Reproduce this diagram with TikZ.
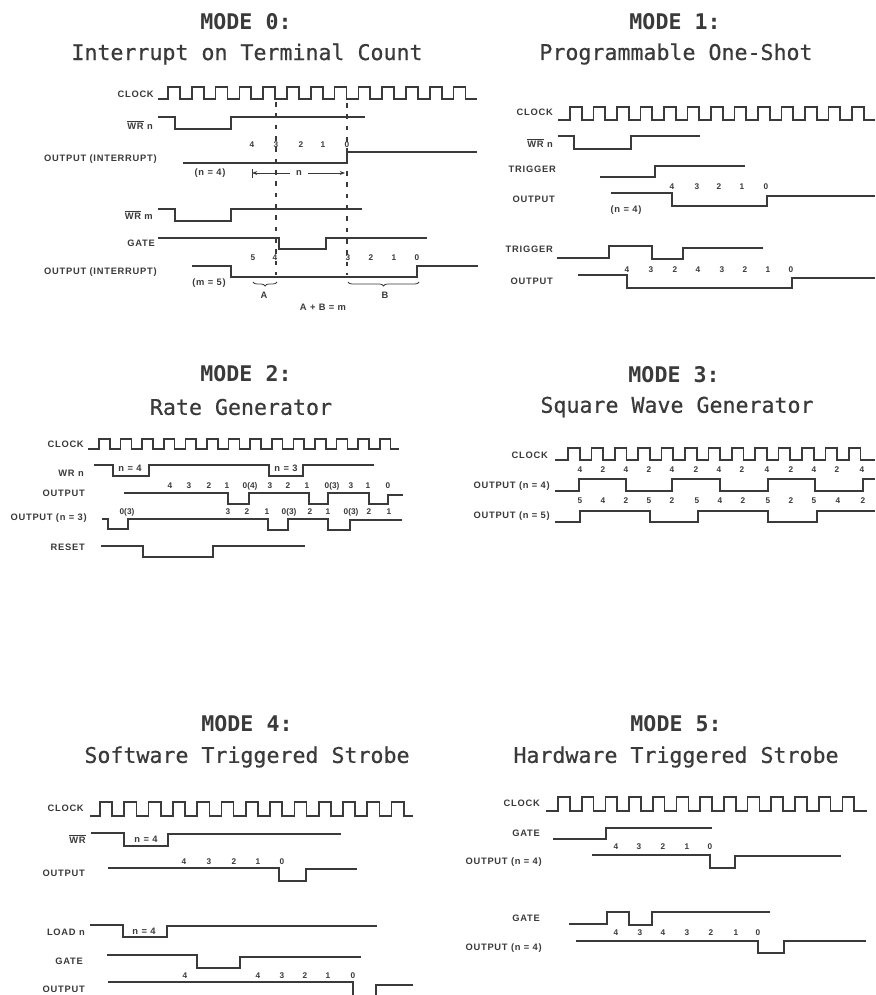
\documentclass[tikz,border=0pt]{standalone}
\usepackage{fontspec}
\setmainfont{Liberation Sans}
\newfontfamily\titlefont{DejaVu Sans Mono}
\newfontfamily\titlefontmid[FakeBold=0.6]{DejaVu Sans Mono}
\newfontfamily\labfont[LetterSpace=8]{Liberation Sans}
\usetikzlibrary{arrows.meta,decorations.pathreplacing}
\definecolor{ink}{HTML}{3A3A3A}
\newcounter{nn}
\tikzset{
  sig/.style={draw=ink,line width=1.25pt,line join=miter},
  guide/.style={draw=ink,line width=1pt,dash pattern=on 3.5pt off 5pt},
  thinln/.style={draw=ink,line width=0.6pt},
  titleA/.style={text=ink,inner sep=0,font=\titlefont\bfseries\fontsize{16.2}{18}\selectfont},
  titleB/.style={text=ink,inner sep=0,font=\titlefontmid\fontsize{16.2}{18}\selectfont},
  siglabel/.style={text=ink,inner sep=0,anchor=east,font=\labfont\bfseries\fontsize{7}{8}\selectfont},
  digit/.style={text=ink,inner sep=0,font=\bfseries\fontsize{6.2}{7}\selectfont},
  smalltxt/.style={text=ink,inner sep=0,font=\labfont\bfseries\fontsize{7}{8}\selectfont},
  brc/.style={draw=ink,line width=0.6pt,decorate,decoration={brace,mirror,amplitude=3pt}},
}
\newcommand\ttl[5]{% xa ya xb yb / text
  \stepcounter{nn}\node[titleA] (n\arabic{nn}) at (#1,#2) {MODE #5:};
  \stepcounter{nn}\node[titleB] (n\arabic{nn}) at (#3,#4) {\csname subt#5\endcsname};}
\expandafter\def\csname subt0\endcsname{Interrupt on Terminal Count}
\expandafter\def\csname subt1\endcsname{Programmable One-Shot}
\expandafter\def\csname subt2\endcsname{Rate Generator}
\expandafter\def\csname subt3\endcsname{Square Wave Generator}
\expandafter\def\csname subt4\endcsname{Software Triggered Strobe}
\expandafter\def\csname subt5\endcsname{Hardware Triggered Strobe}
\newcommand\lab[3]{\stepcounter{nn}\node[siglabel] (n\arabic{nn}) at (#1,#2) {#3};}
\newcommand\txt[3]{\stepcounter{nn}\node[smalltxt] (n\arabic{nn}) at (#1,#2) {#3};}
\newcommand\digs[2]{\foreach \dx/\dv in {#2} {\stepcounter{nn}\node[digit] (n\arabic{nn}) at (\dx,#1) {\dv};}}
\newcommand\wrbar[1]{$\overline{\mbox{WR}}$#1}
% start x, end x, y low, y high, first rise, period, count minus 1
\newcommand\clk[7]{\draw[sig] (#1,#3)
  foreach \i in {0,...,#7} { -- ({#5+\i*#6},#3) -- ({#5+\i*#6},#4) -- ({#5+\i*#6+#6/2},#4) -- ({#5+\i*#6+#6/2},#3) } -- (#2,#3);}
\begin{document}
\begin{tikzpicture}[x=0.75pt,y=-0.75pt]
\useasboundingbox (0,0) rectangle (875,995);
% ---------- MODE 0
\ttl{246}{22}{247}{54}{0}
\lab{154}{94}{CLOCK}
\clk{158}{477}{98.7}{86.7}{168}{23.8}{12}
\lab{153}{125}{\wrbar{ n}}
\draw[sig] (158,117) -- (175,117) -- (175,129) -- (231,129) -- (231,117) -- (365,117);
\digs{145}{252/4,276/3,301/2,323/1,347/0}
\lab{157}{159}{OUTPUT (INTERRUPT)}
\draw[sig] (183,163) -- (347,163) -- (347,152) -- (477,152);
\txt{210}{173}{(n = 4)}
\txt{299}{173}{n}
\draw[thinln] (252,169) -- (252,178);
\draw[thinln,-{Stealth[length=4pt]}] (290,173) -- (252,173);
\draw[thinln,-{Stealth[length=4pt]}] (308,173) -- (345,173);
\draw[guide] (276,102) -- (276,275);
\draw[guide] (347,103) -- (347,275);
\lab{153}{215}{\wrbar{ m}}
\draw[sig] (158,209) -- (175,209) -- (175,221) -- (231,221) -- (231,209) -- (362,209);
\lab{155}{243}{GATE}
\draw[sig] (158,238) -- (279,238) -- (279,249) -- (326,249) -- (326,238) -- (427,238);
\digs{258}{253/5,275/4,348/3,371/2,394/1,417/0}
\lab{157}{272}{OUTPUT (INTERRUPT)}
\draw[sig] (192,266) -- (231,266) -- (231,277) -- (417,277) -- (417,266) -- (478,266);
\txt{209}{283}{(m = 5)}
\draw[brc] (253,282) -- (277,282);
\draw[brc] (348,282) -- (419,282);
\txt{264}{295}{A}
\txt{385}{295}{B}
\txt{323}{307}{A + B = m}
% ---------- MODE 1
\ttl{675}{22}{676}{54}{1}
\lab{553}{112}{CLOCK}
\clk{558}{875}{120}{107}{570}{23.5}{12}
\lab{553}{143}{\wrbar{ n}}
\draw[sig] (558,136) -- (574,136) -- (574,149) -- (631,149) -- (631,136) -- (700,136);
\lab{556}{169}{TRIGGER}
\draw[sig] (600,177) -- (655,177) -- (655,166) -- (745,166);
\digs{187}{672/4,697/3,719/2,742/1,766/0}
\lab{555}{199}{OUTPUT}
\draw[sig] (611,193) -- (672,193) -- (672,206) -- (767,206) -- (767,196) -- (875,196);
\txt{626}{210}{(n = 4)}
\lab{553}{249}{TRIGGER}
\draw[sig] (557,258) -- (609,258) -- (609,246) -- (652,246) -- (652,259) -- (683,259) -- (683,248) -- (763,248);
\digs{270}{627/4,651/3,675/2,698/4,722/3,745/2,768/1,791/0}
\lab{553}{281}{OUTPUT}
\draw[sig] (578,275) -- (627,275) -- (627,288) -- (792,288) -- (792,278) -- (875,278);
% ---------- MODE 2
\ttl{246}{374}{241}{407}{2}
\lab{84}{444}{CLOCK}
\clk{88}{399}{449}{439}{99}{21.6}{13}
\lab{84}{473}{WR n}
\draw[sig] (94,465) -- (113,465) -- (113,476) -- (149,476) -- (149,465) -- (269,465) -- (269,476) -- (303,476) -- (303,465) -- (374,465);
\txt{130}{468}{n = 4}
\txt{286}{468}{n = 3}
\digs{486}{170/4,189/3,209/2,227/1,250/0(4),270/3,288/2,307/1,332/0(3),351/3,368/1,388/0}
\lab{85}{493}{OUTPUT}
\draw[sig] (124,493) -- (228,493) -- (228,504) -- (249,504) -- (249,493) -- (309,493) -- (309,504) -- (328,504) -- (328,493) -- (369,493) -- (369,504) -- (388,504) -- (388,495) -- (403,495);
\digs{512}{127/0(3),228/3,247/2,267/1,289/0(3),310/2,328/1,351/0(3),369/2,389/1}
\lab{87}{518}{OUTPUT (n = 3)}
\draw[sig] (102,519) -- (108,519) -- (108,529) -- (128,529) -- (128,519) -- (268,519) -- (268,530) -- (288,530) -- (288,519) -- (328,519) -- (328,530) -- (350,530) -- (350,520) -- (402,520);
\lab{85}{547}{RESET}
\draw[sig] (101,546) -- (143,546) -- (143,557) -- (213,557) -- (213,546) -- (305,546);
% ---------- MODE 3
\ttl{674}{375}{677}{407}{3}
\lab{548}{455}{CLOCK}
\clk{555}{875}{460}{448}{568}{23.4}{12}
\digs{470}{580/4,603/2,626/4,649/2,672/4,696/2,719/4,742/2,767/4,791/2,814/4,837/2,862/4}
\lab{550}{486}{OUTPUT (n = 4)}
\draw[sig] (555,491) -- (579,491) -- (579,479) -- (626,479) -- (626,491) -- (672,491) -- (672,479) -- (720,479) -- (720,491) -- (768,491) -- (768,479) -- (815,479) -- (815,491) -- (863,491) -- (863,479) -- (875,479);
\digs{501}{580/5,603/4,626/2,649/5,672/2,697/5,720/4,743/2,768/5,791/2,814/5,838/4,863/2}
\lab{550}{516}{OUTPUT (n = 5)}
\draw[sig] (555,522) -- (580,522) -- (580,511) -- (650,511) -- (650,522) -- (698,522) -- (698,511) -- (768,511) -- (768,522) -- (817,522) -- (817,511) -- (875,511);
% ---------- MODE 4
\ttl{247}{724}{247}{757}{4}
\lab{84}{808}{CLOCK}
\clk{90}{413}{816}{802}{100}{24.3}{12}
\lab{86}{839}{\wrbar{}}
\draw[sig] (91,833) -- (124,833) -- (124,846) -- (168,846) -- (168,834) -- (341,834);
\txt{146}{839}{n = 4}
\digs{862}{184/4,209/3,234/2,258/1,282/0}
\lab{85}{873}{OUTPUT}
\draw[sig] (108,868) -- (279,868) -- (279,881) -- (306,881) -- (306,869) -- (357,869);
\lab{85}{932}{LOAD n}
\draw[sig] (90,925) -- (123,925) -- (123,937) -- (167,937) -- (167,926) -- (377,926);
\txt{144}{931}{n = 4}
\lab{83}{961}{GATE}
\draw[sig] (107,955) -- (197,955) -- (197,968) -- (240,968) -- (240,957) -- (361,957);
\digs{976}{185/4,258/4,282/3,305/2,328/1,353/0}
\lab{85}{989}{OUTPUT}
\draw[sig] (108,982) -- (353,982) -- (353,996);
\draw[sig] (376,996) -- (376,985) -- (413,985);
% ---------- MODE 5
\ttl{676}{724}{676}{757}{5}
\lab{540}{803}{CLOCK}
\clk{546}{867}{811}{797}{558}{23.7}{12}
\lab{540}{833}{GATE}
\draw[sig] (553,839) -- (606,839) -- (606,828) -- (712,828);
\digs{847}{616/4,639/3,663/2,687/1,710/0}
\lab{542}{862}{OUTPUT (n = 4)}
\draw[sig] (592,855) -- (710,855) -- (710,868) -- (735,868) -- (735,856) -- (841,856);
\lab{540}{918}{GATE}
\draw[sig] (569,924) -- (607,924) -- (607,912) -- (629,912) -- (629,925) -- (652,925) -- (652,912) -- (770,912);
\digs{933}{616/4,640/3,663/4,687/3,711/2,736/1,758/0}
\lab{542}{948}{OUTPUT (n = 4)}
\draw[sig] (576,941) -- (758,941) -- (758,953) -- (784,953) -- (784,941) -- (866,941);
\end{tikzpicture}
\end{document}
